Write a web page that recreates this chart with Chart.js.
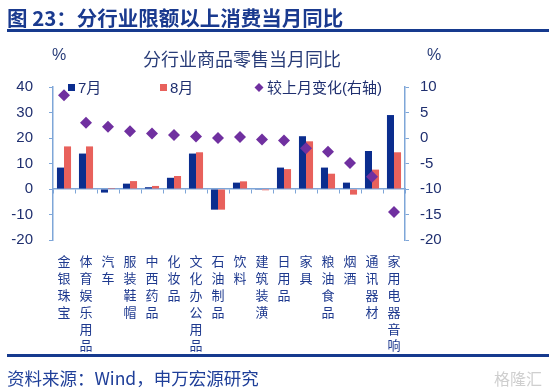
<!DOCTYPE html>
<html><head><meta charset="utf-8">
<script src="https://cdn.jsdelivr.net/npm/chart.js@4"></script>
<style>
html,body{margin:0;padding:0;background:#fff;}
#wrap{position:relative;width:555px;height:391px;overflow:hidden;font-family:"Liberation Sans","Noto Sans CJK SC",sans-serif;}
#c{position:absolute;left:0;top:0;}
.t{position:absolute;white-space:nowrap;line-height:1;}
.rule{position:absolute;background:#163a8e;}
</style></head><body>
<div id="wrap">
<canvas id="c" width="555" height="391"></canvas>
<div class="t" style="left:7px;top:7px;font-size:20.5px;font-weight:bold;color:#1a3a8f;font-family:'Noto Sans CJK SC',sans-serif;">图 23：分行业限额以上消费当月同比</div>
<div class="rule" style="left:7px;top:29px;width:542px;height:3px;"></div>
<div class="t" style="left:242px;top:49px;transform:translateX(-50%);font-size:18px;color:#283c78;font-family:'Noto Sans CJK SC',sans-serif;">分行业商品零售当月同比</div>
<div class="t" style="left:52px;top:47px;font-size:16px;color:#283c78;">%</div>
<div class="t" style="left:427px;top:47px;font-size:16px;color:#283c78;">%</div>
<div class="rule" style="left:7px;top:354px;width:542px;height:2.5px;"></div>
<div class="t" style="left:7px;top:369px;font-size:17.5px;color:#1f3f99;font-family:'Noto Sans CJK SC',sans-serif;">资料来源：Wind，申万宏源研究</div>
<div class="t" style="left:494px;top:370px;font-size:16px;color:#cfcfcf;font-family:'Noto Sans CJK SC',sans-serif;">格隆汇</div>
</div>
<script>
const categories = ['金银珠宝','体育娱乐用品','汽车','服装鞋帽','中西药品','化妆品','文化办公用品','石油制品','饮料','建筑装潢','日用品','家具','粮油食品','烟酒','通讯器材','家用电器音响'];
const julValues = [8.4, 13.9, -1.4, 2.1, 0.7, 4.4, 13.9, -8.1, 2.5, -0.3, 8.4, 20.7, 8.4, 2.5, 14.9, 29.0];
const augValues = [16.7, 16.7, 0.4, 3.1, 1.2, 5.1, 14.4, -8.1, 3.0, -0.5, 7.8, 18.7, 6.0, -2.2, 7.6, 14.4];
const changeValues = [8.4, 3.0, 2.2, 1.3, 0.9, 0.6, 0.3, 0.0, 0.2, -0.3, -0.5, -2.0, -2.7, -4.9, -7.6, -14.5];
const seriesNames = ['7月', '8月', '较上月变化(右轴)'];
const leftTicks = [-20, -10, 0, 10, 20, 30, 40];
const rightTicks = [-20, -15, -10, -5, 0, 5, 10];

const axisColor = '#7ea6d8';
const textColor = '#1f2f6f';
const numFont = {family: "'Liberation Sans', 'Noto Sans CJK SC', sans-serif", size: 15};

const legendPlugin = {
  id: 'customLegend',
  afterDraw(chart) {
    const ctx = chart.ctx;
    const xs = [68, 160, 255];
    const cy = 87.5;
    ctx.save();
    ctx.font = "15px 'Liberation Sans', 'Noto Sans CJK SC', sans-serif";
    ctx.textBaseline = 'middle';
    chart.data.datasets.forEach((ds, i) => {
      const x = xs[i];
      ctx.fillStyle = ds.backgroundColor;
      if (ds.type === 'line') {
        ctx.beginPath();
        ctx.moveTo(x + 4, cy - 4.5);
        ctx.lineTo(x + 8.5, cy);
        ctx.lineTo(x + 4, cy + 4.5);
        ctx.lineTo(x - 0.5, cy);
        ctx.closePath();
        ctx.fill();
        ctx.fillStyle = textColor;
        ctx.fillText(ds.label, x + 12, cy + 1);
      } else {
        ctx.fillRect(x, cy - 3.5, 7, 7);
        ctx.fillStyle = textColor;
        ctx.fillText(ds.label, x + 10, cy + 1);
      }
    });
    ctx.restore();
  }
};

new Chart(document.getElementById('c'), {
  data: {
    labels: categories,
    datasets: [
      {type: 'bar', label: seriesNames[0], data: julValues, yAxisID: 'y', xAxisID: 'x',
       backgroundColor: '#0b2d8e', categoryPercentage: 0.64, barPercentage: 1, order: 1},
      {type: 'bar', label: seriesNames[1], data: augValues, yAxisID: 'y', xAxisID: 'x',
       backgroundColor: '#e8615c', categoryPercentage: 0.64, barPercentage: 1, order: 1},
      {type: 'line', label: seriesNames[2], data: changeValues, yAxisID: 'y1', xAxisID: 'x',
       showLine: false, pointStyle: 'rectRot', pointRadius: 6, pointBorderWidth: 0,
       backgroundColor: '#7030a0', borderColor: '#7030a0', order: 0}
    ]
  },
  options: {
    responsive: false,
    animation: false,
    layout: {padding: {top: 87, left: 0, right: 0, bottom: 0}},
    plugins: {legend: {display: false}, tooltip: {enabled: false}},
    scales: {
      x: {
        type: 'category', position: {y: 0}, offset: true,
        grid: {display: true, offset: true, drawOnChartArea: false, drawTicks: true, tickLength: 4, color: axisColor, lineWidth: 1},
        border: {display: true, color: axisColor, width: 1.5},
        ticks: {display: false}
      },
      x2: {
        type: 'category', position: 'bottom', labels: categories.map(c => c.split('')), offset: true,
        grid: {display: false, drawTicks: false},
        border: {display: false},
        ticks: {autoSkip: false, maxRotation: 0, minRotation: 0, padding: 13, color: '#1f3a8f',
                font: {family: "'Noto Sans CJK SC', sans-serif", size: 13, lineHeight: '16.8px'}},
        afterFit(s) { s.height = 151; }
      },
      y: {
        type: 'linear', position: 'left', min: -20, max: 40,
        afterBuildTicks(s) { s.ticks = leftTicks.map(v => ({value: v})); },
        grid: {drawOnChartArea: false, drawTicks: true, tickLength: 4, color: axisColor},
        border: {display: true, color: axisColor, width: 1.5},
        ticks: {color: textColor, font: numFont, padding: 16},
        afterFit(s) { s.width = 53; }
      },
      y1: {
        type: 'linear', position: 'right', min: -20, max: 10,
        afterBuildTicks(s) { s.ticks = rightTicks.map(v => ({value: v})); },
        grid: {drawOnChartArea: false, drawTicks: true, tickLength: 4, color: axisColor},
        border: {display: true, color: axisColor, width: 1.5},
        ticks: {color: textColor, font: numFont, padding: 11},
        afterFit(s) { s.width = 150; }
      }
    }
  },
  plugins: [legendPlugin]
});
</script>
</body></html>
